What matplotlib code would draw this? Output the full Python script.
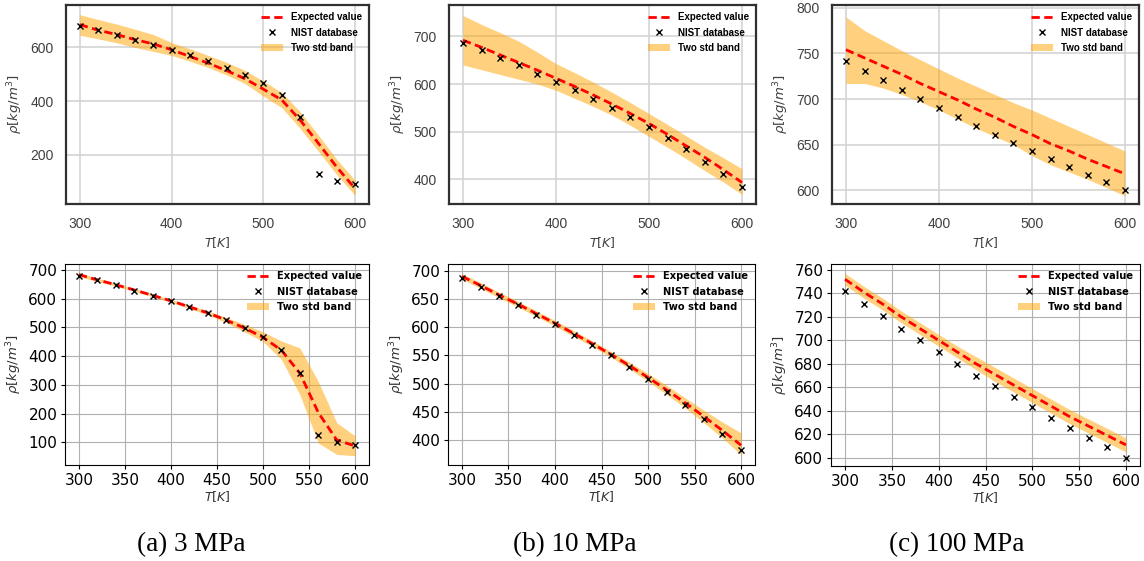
import matplotlib
matplotlib.use("Agg")
import matplotlib.pyplot as plt
import numpy as np
from matplotlib.lines import Line2D
from matplotlib.patches import Patch

T = [300, 320, 340, 360, 380, 400, 420, 440, 460, 480, 500, 520, 540, 560, 580, 600]

# NIST reference density [kg/m^3]
nist_3 = [680, 663, 647, 627, 608, 592, 570, 550, 524, 497, 466, 421, 341, 127, 102, 89]
nist_10 = [687, 671, 655, 639, 622, 605, 587, 569, 550, 530, 509, 486, 463, 437, 411, 383]
nist_100 = [742, 731, 721, 710, 700, 690, 680, 670, 661, 652, 643, 634, 625, 617, 609, 600]

# Top row (model A)
top_mean_3 = [685, 664, 648, 629, 613, 591, 566, 541, 513, 483, 444, 404, 329, 242, 153, 73]
top_up_3 = [722, 704, 687, 668, 648, 618, 595, 570, 544, 514, 474, 432, 360, 272, 182, 104]
top_lo_3 = [645, 632, 617, 600, 585, 570, 548, 525, 497, 465, 418, 375, 298, 212, 125, 48]

top_mean_10 = [692, 677, 661, 645, 629, 612, 595, 577, 558, 538, 517, 494, 470, 446, 420, 393]
top_up_10 = [744, 725, 708, 690, 667, 643, 624, 604, 583, 561, 538, 515, 491, 467, 445, 422]
top_lo_10 = [640, 630, 620, 610, 600, 587, 570, 553, 535, 513, 490, 467, 443, 418, 394, 368]

top_mean_100 = [754, 745, 736, 727, 717, 708, 699, 689, 680, 670, 661, 651, 643, 634, 626, 618]
top_up_100 = [790, 775, 764, 753, 743, 733, 723, 714, 705, 696, 688, 679, 670, 661, 652, 643]
top_lo_100 = [717, 717, 712, 705, 697, 688, 678, 668, 659, 650, 638, 628, 620, 612, 603, 594]

# Bottom row (model B)
bot_mean_3 = [683, 665, 648, 630, 611, 592, 571, 550, 525, 497, 465, 420, 340, 203, 108, 87]
bot_up_3 = [690, 671, 653, 635, 616, 597, 577, 557, 534, 510, 484, 452, 428, 311, 168, 122]
bot_lo_3 = [676, 659, 643, 625, 606, 587, 565, 543, 516, 484, 450, 388, 265, 97, 58, 53]

bot_mean_10 = [690, 674, 657, 641, 624, 607, 589, 571, 552, 532, 511, 489, 466, 442, 417, 391]
bot_up_10 = [695, 679, 662, 646, 629, 612, 594, 576, 557, 538, 518, 497, 475, 453, 432, 413]
bot_lo_10 = [685, 669, 652, 636, 619, 602, 584, 566, 547, 526, 504, 481, 457, 431, 404, 374]

bot_mean_100 = [752, 741, 731, 720, 710, 700, 690, 680, 671, 662, 653, 644, 635, 627, 619, 611]
bot_up_100 = [757, 746, 736, 725, 715, 705, 695, 686, 677, 668, 659, 650, 641, 633, 625, 617]
bot_lo_100 = [747, 736, 726, 715, 705, 695, 685, 675, 665, 656, 647, 638, 629, 621, 613, 605]

captions = ["(a) 3 MPa", "(b) 10 MPa", "(c) 100 MPa"]
top_yticks = [[200, 400, 600], [400, 500, 600, 700], [600, 650, 700, 750, 800]]
bot_yticks = [[100, 200, 300, 400, 500, 600, 700],
              [400, 450, 500, 550, 600, 650, 700],
              [600, 620, 640, 660, 680, 700, 720, 740, 760]]

W, H = 1144, 561
fig = plt.figure(figsize=(W / 100, H / 100), dpi=100)


def box(l, r, t, b):
    return [l / W, 1 - b / H, (r - l) / W, (b - t) / H]


top_boxes = [box(66, 369, 5, 204), box(449, 756, 5, 204), box(832, 1139, 5, 204)]
bot_boxes = [box(65, 369, 264, 465), box(448, 755, 264, 465), box(831, 1140, 264, 466)]

top_data = [(nist_3, top_mean_3, top_up_3, top_lo_3),
            (nist_10, top_mean_10, top_up_10, top_lo_10),
            (nist_100, top_mean_100, top_up_100, top_lo_100)]
bot_data = [(nist_3, bot_mean_3, bot_up_3, bot_lo_3),
            (nist_10, bot_mean_10, bot_up_10, bot_lo_10),
            (nist_100, bot_mean_100, bot_up_100, bot_lo_100)]

band_color = "#FFA500"


def draw(ax, nist, mean, up, lo):
    ax.fill_between(T, lo, up, color=band_color, alpha=0.5, linewidth=0, zorder=2)
    ax.plot(T, mean, color="red", linestyle=(0, (3, 1.6)), linewidth=2, zorder=3)
    ax.plot(T, nist, linestyle="none", marker="x", color="black",
            markersize=4.5, markeredgewidth=1, zorder=4)


def legend(ax, family, fs):
    handles = [Line2D([], [], color="red", linestyle=(0, (3, 1.6)), linewidth=2),
               Line2D([], [], color="black", marker="x", linestyle="none",
                      markersize=4, markeredgewidth=1),
               Patch(facecolor=band_color, alpha=0.5, edgecolor="none")]
    labels = ["Expected value", "NIST database", "Two std band"]
    ax.legend(handles, labels, loc="upper right", frameon=False,
              prop={"family": family, "weight": "bold", "size": fs},
              handlelength=2.2, labelspacing=0.55, borderaxespad=0.35,
              handletextpad=0.8)


# Top row: seaborn-like white grid with dark frame
for i in range(3):
    ax = fig.add_axes(top_boxes[i])
    nist, mean, up, lo = top_data[i]
    draw(ax, nist, mean, up, lo)
    ax.set_xticks([300, 400, 500, 600])
    ax.set_yticks(top_yticks[i])
    ax.set_xlim(285, 615)
    ax.grid(True, color="#d4d4d4", linewidth=1.2, zorder=0)
    ax.set_axisbelow(True)
    for s in ax.spines.values():
        s.set_color("#303030")
        s.set_linewidth(1.6)
    ax.tick_params(length=0, pad=9, labelsize=10, labelcolor="#404040")
    for lab in ax.get_xticklabels() + ax.get_yticklabels():
        lab.set_family("Liberation Sans")
    ax.set_xlabel(r"$T[K]$", fontsize=9, color="#404040", labelpad=3)
    ax.set_ylabel(r"$\rho[kg/m^3]$", fontsize=9.5, color="#404040", labelpad=4)
    legend(ax, "Liberation Sans", 7)

top_ylims = [(16, 758), (348, 766), (585, 803)]
for ax, yl in zip(fig.axes[:3], top_ylims):
    ax.set_ylim(*yl)

# Bottom row: default matplotlib style with grid
bot_ylims = [(21, 720), (356, 712), (593, 765)]
for i in range(3):
    ax = fig.add_axes(bot_boxes[i])
    nist, mean, up, lo = bot_data[i]
    draw(ax, nist, mean, up, lo)
    ax.set_xticks([300, 350, 400, 450, 500, 550, 600])
    ax.set_yticks(bot_yticks[i])
    ax.set_xlim(285, 615)
    ax.set_ylim(*bot_ylims[i])
    ax.grid(True, color="#b0b0b0", linewidth=0.8, zorder=0)
    ax.set_axisbelow(True)
    ax.tick_params(labelsize=11, length=3, pad=2.5)
    ax.set_xlabel(r"$T[K]$", fontsize=9, color="#333333", labelpad=1)
    ax.set_ylabel(r"$\rho[kg/m^3]$", fontsize=9.5, color="#333333", labelpad=3)
    legend(ax, "DejaVu Sans", 7.1)

cap_x = [191, 575, 957]
for cx, txt in zip(cap_x, captions):
    fig.text(cx / W, 1 - 545 / H, txt, ha="center", va="center",
             family="Liberation Serif", fontsize=19.5)

fig.savefig("out.png", dpi=100)
